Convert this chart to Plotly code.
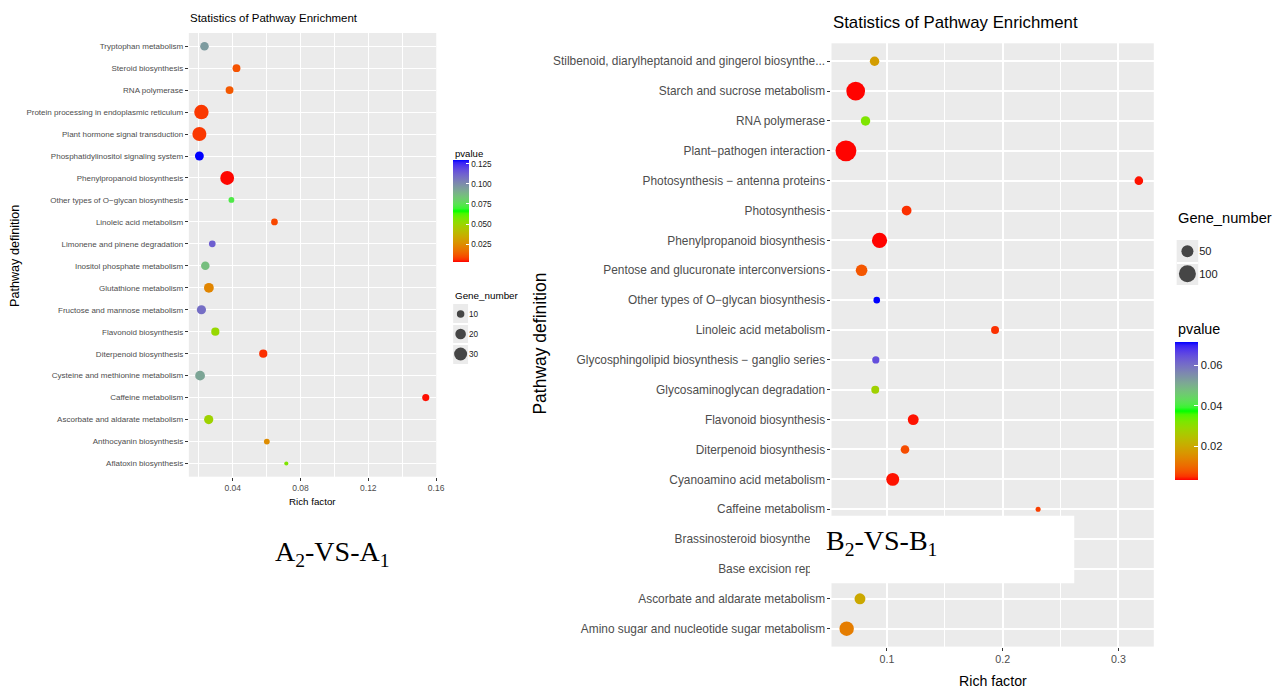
import numpy as np
import plotly.graph_objects as go

# ---------------- data ----------------
# Panel A (A2-VS-A1), listed top -> bottom
path_A = ["Tryptophan metabolism", "Steroid biosynthesis", "RNA polymerase",
          "Protein processing in endoplasmic reticulum", "Plant hormone signal transduction",
          "Phosphatidylinositol signaling system", "Phenylpropanoid biosynthesis",
          "Other types of O\u2212glycan biosynthesis", "Linoleic acid metabolism",
          "Limonene and pinene degradation", "Inositol phosphate metabolism",
          "Glutathione metabolism", "Fructose and mannose metabolism",
          "Flavonoid biosynthesis", "Diterpenoid biosynthesis",
          "Cysteine and methionine metabolism", "Caffeine metabolism",
          "Ascorbate and aldarate metabolism", "Anthocyanin biosynthesis",
          "Aflatoxin biosynthesis"]
rich_A = [0.0233, 0.0422, 0.0381, 0.0215, 0.0203, 0.0203, 0.0367, 0.0392, 0.0646, 0.0279,
          0.0238, 0.0259, 0.0215, 0.0297, 0.0580, 0.0207, 0.1539, 0.0258, 0.0601, 0.0716]
gene_A = [13, 11, 11, 37, 35, 14, 34, 6, 8, 8,
          13, 17, 15, 12, 12, 17, 9, 15, 6, 3]
p_A = [0.095, 0.010, 0.011, 0.006, 0.006, 0.129, 0.0025, 0.072, 0.008, 0.112,
       0.085, 0.022, 0.108, 0.050, 0.005, 0.092, 0.003, 0.048, 0.024, 0.055]

# Panel B (B2-VS-B1), listed top -> bottom
path_B = ["Stilbenoid, diarylheptanoid and gingerol biosynthe...", "Starch and sucrose metabolism",
          "RNA polymerase", "Plant\u2212pathogen interaction",
          "Photosynthesis \u2212 antenna proteins", "Photosynthesis",
          "Phenylpropanoid biosynthesis", "Pentose and glucuronate interconversions",
          "Other types of O\u2212glycan biosynthesis", "Linoleic acid metabolism",
          "Glycosphingolipid biosynthesis \u2212 ganglio series", "Glycosaminoglycan degradation",
          "Flavonoid biosynthesis", "Diterpenoid biosynthesis", "Cyanoamino acid metabolism",
          "Caffeine metabolism", "Brassinosteroid biosynthesis", "Base excision repair",
          "Ascorbate and aldarate metabolism", "Amino sugar and nucleotide sugar metabolism"]
rich_B = [0.0893, 0.0730, 0.0815, 0.0646, 0.3176, 0.1170, 0.0936, 0.0781, 0.0912, 0.1934,
          0.0904, 0.0899, 0.1227, 0.1156, 0.1050, 0.2306, 0.1500, 0.1200, 0.0767, 0.0652]
gene_B = [31, 122, 31, 151, 26, 33, 80, 47, 15, 22,
          18, 22, 41, 26, 58, 9, 20, 15, 41, 72]
p_B = [0.018, 0.0035, 0.032, 0.0035, 0.004, 0.005, 0.0035, 0.008, 0.072, 0.005,
       0.065, 0.028, 0.004, 0.007, 0.004, 0.006, 0.030, 0.040, 0.020, 0.013]

xticks_A = [0.04, 0.08, 0.12, 0.16]
xticks_B = [0.1, 0.2, 0.3]
cbticks_A = [0.025, 0.050, 0.075, 0.100, 0.125]
cbticks_B = [0.02, 0.04, 0.06]
size_breaks_A = [10, 20, 30]
size_breaks_B = [50, 100]

# ---------------- helpers ----------------
W, H = 1284, 689
def px(x):
    return x / W
def py(y):
    return 1 - y / H

NARROW = "Liberation Sans, Arial, sans-serif"   # horizontal text (reference is squeezed)
K = 0.82                                        # width compensation
REG = "Liberation Sans, Arial, sans-serif"
SERIF = "Liberation Serif, Times New Roman, serif"

def _srgb_to_lab(c):
    c = np.asarray(c, float)
    lin = np.where(c <= 0.04045, c / 12.92, ((c + 0.055) / 1.055) ** 2.4)
    M = np.array([[0.4124564, 0.3575761, 0.1804375],
                  [0.2126729, 0.7151522, 0.0721750],
                  [0.0193339, 0.1191920, 0.9503041]])
    xyz = M @ lin / np.array([0.95047, 1.0, 1.08883])
    f = np.where(xyz > 0.008856, np.cbrt(xyz), 7.787 * xyz + 16 / 116)
    return np.array([116 * f[1] - 16, 500 * (f[0] - f[1]), 200 * (f[1] - f[2])])

def _lab_to_hex(lab):
    L, a, b = lab
    fy = (L + 16) / 116
    fx = fy + a / 500
    fz = fy - b / 200
    f = np.array([fx, fy, fz])
    xyz = np.where(f ** 3 > 0.008856, f ** 3, (f - 16 / 116) / 7.787) * np.array([0.95047, 1.0, 1.08883])
    Minv = np.array([[3.2404542, -1.5371385, -0.4985314],
                     [-0.9692660, 1.8760108, 0.0415560],
                     [0.0556434, -0.2040259, 1.0572252]])
    lin = np.clip(Minv @ xyz, 0, 1)
    c = np.where(lin <= 0.0031308, 12.92 * lin, 1.055 * lin ** (1 / 2.4) - 0.055)
    c = np.clip(np.round(c * 255), 0, 255).astype(int)
    return "#%02x%02x%02x" % tuple(c)

def lab_scale(colors, n=41):
    labs = [_srgb_to_lab(c) for c in colors]
    k = len(colors) - 1
    out = []
    for t in np.linspace(0, 1, n):
        seg = min(int(t * k), k - 1)
        u = t * k - seg
        lab = labs[seg] * (1 - u) + labs[seg + 1] * u
        out.append([float(t), _lab_to_hex(lab)])
    return out

CSCALE = lab_scale([(1, 0, 0), (0, 1, 0), (0, 0, 1)])

# ---------------- figure ----------------
fig = go.Figure()

SREF_A = 2 * 30 / 169.0    # 30 genes -> ~13 px
SREF_B = 2 * 100 / 289.0   # 100 genes -> ~17 px

fig.add_trace(go.Scatter(
    x=rich_A, y=path_A, mode="markers", xaxis="x", yaxis="y",
    marker=dict(size=gene_A, sizemode="area", sizeref=SREF_A, color=p_A,
                coloraxis="coloraxis", line=dict(width=0), opacity=1),
    showlegend=False, hoverinfo="skip"))

fig.add_trace(go.Scatter(
    x=rich_B, y=path_B, mode="markers", xaxis="x2", yaxis="y2",
    marker=dict(size=gene_B, sizemode="area", sizeref=SREF_B, color=p_B,
                coloraxis="coloraxis2", line=dict(width=0), opacity=1),
    showlegend=False, hoverinfo="skip"))

# size-legend keys (drawn through the same size scales)
fig.add_trace(go.Scatter(
    x=[0] * len(size_breaks_A), y=[str(v) for v in size_breaks_A], mode="markers",
    xaxis="x3", yaxis="y3",
    marker=dict(size=size_breaks_A, sizemode="area", sizeref=SREF_A, color="black",
                line=dict(width=0)),
    showlegend=False, hoverinfo="skip"))
fig.add_trace(go.Scatter(
    x=[0] * len(size_breaks_B), y=[str(v) for v in size_breaks_B], mode="markers",
    xaxis="x4", yaxis="y4",
    marker=dict(size=size_breaks_B, sizemode="area", sizeref=SREF_B, color="black",
                line=dict(width=0)),
    showlegend=False, hoverinfo="skip"))

tick_grey = "#4d4d4d"

def cat_axis(cats, dom, fontsize, anchor, gw):
    n = len(cats)
    return dict(domain=dom, anchor=anchor, type="category",
                categoryorder="array", categoryarray=cats,
                range=[n - 1 + 0.6, -0.6],
                showgrid=True, gridcolor="white", gridwidth=gw,
                ticks="outside", ticklen=3, tickcolor="#333333", tickwidth=1,
                tickfont=dict(family=NARROW, size=fontsize, color=tick_grey),
                showline=False, zeroline=False, fixedrange=True)

fig.update_layout(
    width=W, height=H, margin=dict(l=0, r=0, t=0, b=0),
    paper_bgcolor="white", plot_bgcolor="#ebebeb",
    showlegend=False,
    xaxis=dict(domain=[px(190), px(439)], anchor="y", range=[0.01406, 0.1601],
               tickvals=xticks_A, ticktext=["%.2f" % v for v in xticks_A],
               showgrid=True, gridcolor="white", gridwidth=1.3,
               minor=dict(tickvals=[0.02, 0.06, 0.10, 0.14], showgrid=True,
                          gridcolor="white", gridwidth=0.6, ticks=""),
               ticks="outside", ticklen=3, tickcolor="#333333", tickwidth=1,
               tickfont=dict(family=NARROW, size=10.4 * K, color=tick_grey),
               zeroline=False, showline=False),
    yaxis=cat_axis(path_A, [py(476.7), py(33)], 9.8 * K, "x", 1.3),
    xaxis2=dict(domain=[px(836.7), px(1161)], anchor="y2", range=[0.0521, 0.3305],
                tickvals=xticks_B, ticktext=["%.1f" % v for v in xticks_B],
                showgrid=True, gridcolor="white", gridwidth=1.5,
                minor=dict(tickvals=[0.15, 0.25], showgrid=True,
                           gridcolor="white", gridwidth=0.7, ticks=""),
                ticks="outside", ticklen=3, tickcolor="#333333", tickwidth=1,
                tickfont=dict(family=NARROW, size=13 * K, color=tick_grey),
                zeroline=False, showline=False),
    yaxis2=cat_axis(path_B, [py(646.6), py(43.3)], 14.5 * K, "x2", 1.5),
    xaxis3=dict(domain=[px(456), px(471)], anchor="y3", range=[-1, 1], visible=False,
                fixedrange=True),
    yaxis3=dict(domain=[py(364), py(304)], anchor="x3", type="category",
                categoryorder="array", categoryarray=[str(v) for v in size_breaks_A],
                range=[len(size_breaks_A) - 0.5, -0.5], side="right",
                tickson="boundaries", showgrid=True, gridcolor="white", gridwidth=2,
                ticks="", tickfont=dict(family=NARROW, size=10 * K, color="#1a1a1a"),
                showline=False, zeroline=False, fixedrange=True),
    xaxis4=dict(domain=[px(1184), px(1205.7)], anchor="y4", range=[-1, 1], visible=False,
                fixedrange=True),
    yaxis4=dict(domain=[py(285), py(240)], anchor="x4", type="category",
                categoryorder="array", categoryarray=[str(v) for v in size_breaks_B],
                range=[len(size_breaks_B) - 0.5, -0.5], side="right",
                tickson="boundaries", showgrid=True, gridcolor="white", gridwidth=2,
                ticks="", tickfont=dict(family=NARROW, size=13.5 * K, color="#1a1a1a"),
                showline=False, zeroline=False, fixedrange=True),
    coloraxis=dict(colorscale=CSCALE, cmin=0.0021, cmax=0.129,
                   colorbar=dict(x=px(456), xanchor="left", xpad=0,
                                 y=py(211.5), yanchor="middle", ypad=0,
                                 len=101.6, lenmode="pixels",
                                 thickness=15.7, thicknessmode="pixels",
                                 outlinewidth=0, tickvals=cbticks_A,
                                 ticktext=["%.3f" % v for v in cbticks_A],
                                 ticks="inside", ticklen=3, tickcolor="white",
                                 tickfont=dict(family=NARROW, size=10 * K, color="#1a1a1a"))),
    coloraxis2=dict(colorscale=CSCALE, cmin=0.0034, cmax=0.0719,
                    colorbar=dict(x=px(1182.7), xanchor="left", xpad=0,
                                  y=py(410.5), yanchor="middle", ypad=0,
                                  len=137.6, lenmode="pixels",
                                  thickness=23, thicknessmode="pixels",
                                  outlinewidth=0, tickvals=cbticks_B,
                                  ticktext=["%.2f" % v for v in cbticks_B],
                                  ticks="inside", ticklen=4, tickcolor="white",
                                  tickfont=dict(family=NARROW, size=13.6 * K, color="#1a1a1a"))),
)

def ann(text, x, y, size, family=NARROW, color="black", xanchor="center", angle=0):
    fig.add_annotation(text=text, x=px(x), y=py(y), xref="paper", yref="paper",
                       xanchor=xanchor, yanchor="middle", showarrow=False,
                       textangle=angle, font=dict(family=family, size=size, color=color))

# titles
ann("Statistics of Pathway Enrichment", 275.5, 17.7, 14 * K)
ann("Statistics of Pathway Enrichment", 961.5, 22.2, 20.5 * K)
# axis titles
ann("Rich factor", 314.5, 501.7, 11.9 * K)
ann("Rich factor", 999, 680.5, 17.3 * K)
ann("Pathway definition", 15, 256, 12.6, family=REG, angle=-90)
ann("Pathway definition", 543, 344, 17.5, family=REG, angle=-90)
# legend titles
ann("pvalue", 456, 153, 11.7 * K, xanchor="left")
ann("Gene_number", 456, 295.5, 12 * K, xanchor="left")
ann("Gene_number", 1183, 218, 17.9 * K, xanchor="left")
ann("pvalue", 1183, 329, 17.5 * K, xanchor="left")

# white cover box on right panel + panel labels
fig.add_shape(type="rect", xref="paper", yref="paper",
              x0=px(815), x1=px(1081), y0=py(583.3), y1=py(515.7),
              fillcolor="white", line=dict(width=0), layer="above")
ann("A<sub>2</sub>-VS-A<sub>1</sub>", 335, 553, 28, family=SERIF)
ann("B<sub>2</sub>-VS-B<sub>1</sub>", 887.5, 542, 28, family=SERIF)

fig.write_html("out.html")
